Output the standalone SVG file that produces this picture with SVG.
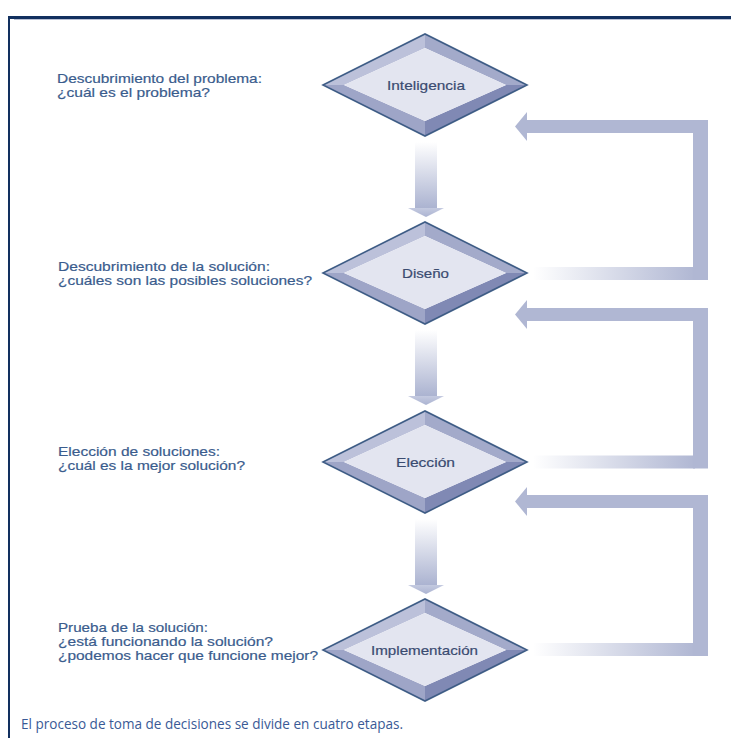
<svg xmlns="http://www.w3.org/2000/svg" width="731" height="738" viewBox="0 0 731 738">
  <defs>
    <linearGradient id="downFade" x1="0" y1="0" x2="0" y2="1">
      <stop offset="0" stop-color="#ffffff"/>
      <stop offset="1" stop-color="#aab2d0"/>
    </linearGradient>
    <linearGradient id="headFade" x1="0" y1="0" x2="0" y2="1">
      <stop offset="0" stop-color="#c4cae0"/>
      <stop offset="1" stop-color="#abb3d1"/>
    </linearGradient>
    <linearGradient id="sideFade" x1="0" y1="0" x2="1" y2="0">
      <stop offset="0" stop-color="#ffffff"/>
      <stop offset="1" stop-color="#b0b7d3"/>
    </linearGradient>
    <!-- bevelled diamond, centred on 0,0 -->
    <g id="diamond">
      <polygon points="-102,0 0,-51 0,-37 -81,0" fill="#bcc1da"/>
      <polygon points="0,-51 102,0 81,0 0,-37" fill="#a3aaca"/>
      <polygon points="-102,0 -81,0 0,36 0,51" fill="#9ea5c7"/>
      <polygon points="102,0 0,51 0,36 81,0" fill="#8089b4"/>
      <polygon points="-81,0 0,-37 81,0 0,36" fill="#e3e5f0"/>
      <polygon points="-102,0 0,-51 102,0 0,51" fill="none" stroke="#3f5d86" stroke-width="1.6" stroke-linejoin="miter"/>
    </g>
  </defs>
  <style>
    .lbl { font-family: "Liberation Sans", Arial, sans-serif; font-size: 13.5px; fill: #3a5c8d; stroke: #3a5c8d; stroke-width: 0.2px; }
    .node { font-family: "Liberation Sans", Arial, sans-serif; font-size: 13.5px; fill: #3a4b70; stroke: #3a4b70; stroke-width: 0.2px; text-anchor: middle; }
    .cap { font-family: "Open Sans", "Noto Sans", sans-serif; font-size: 14px; fill: #3a5a96; }
    .bar { fill: #b0b7d3; }
    .down { fill: url(#downFade); }
    .head { fill: url(#headFade); }
    .fade { fill: url(#sideFade); }
  </style>

  <rect x="0" y="0" width="731" height="738" fill="#ffffff"/>

  <!-- frame -->
  <g id="frame">
    <rect x="8" y="16" width="723" height="3" fill="#12305f"/>
    <rect x="8" y="16" width="2" height="722" fill="#12305f"/>
    <rect x="14" y="19" width="717" height="1" fill="#b9c0d4"/>
  </g>

  <!-- connectors -->
  <g id="connectors">
    <!-- downward arrows -->
    <rect class="down" x="415" y="142" width="22" height="67"/>
    <polygon class="head" points="408,208 444,208 426,217"/>
    <rect class="down" x="415" y="330" width="22" height="67"/>
    <polygon class="head" points="408,396 444,396 426,405"/>
    <rect class="down" x="415" y="519" width="22" height="67"/>
    <polygon class="head" points="408,585 444,585 426,594"/>

    <!-- feedback loop: Diseño back to Inteligencia -->
    <rect class="fade" x="533" y="267" width="162" height="13"/>
    <rect class="bar" x="693" y="120" width="15" height="160"/>
    <rect class="bar" x="527" y="120" width="168" height="13"/>
    <polygon class="bar" points="515,126.5 527,112 527,141"/>

    <!-- feedback loop: Elección back to Diseño -->
    <rect class="fade" x="533" y="455.5" width="162" height="13"/>
    <rect class="bar" x="693" y="308" width="15" height="160.5"/>
    <rect class="bar" x="527" y="308" width="168" height="13"/>
    <polygon class="bar" points="515,314.5 527,300 527,329"/>

    <!-- feedback loop: Implementación back to Elección -->
    <rect class="fade" x="533" y="643" width="162" height="13"/>
    <rect class="bar" x="693" y="495" width="15" height="161"/>
    <rect class="bar" x="527" y="495" width="168" height="13"/>
    <polygon class="bar" points="515,501.5 527,487 527,516"/>
  </g>

  <!-- stage nodes -->
  <g id="node-inteligencia">
    <use href="#diamond" x="425" y="85"/>
    <text class="node" x="426" y="90" textLength="78" lengthAdjust="spacingAndGlyphs">Inteligencia</text>
  </g>
  <g id="node-diseno">
    <use href="#diamond" x="425" y="273"/>
    <text class="node" x="425.5" y="278" textLength="47" lengthAdjust="spacingAndGlyphs">Diseño</text>
  </g>
  <g id="node-eleccion">
    <use href="#diamond" x="425" y="462"/>
    <text class="node" x="425.5" y="467" textLength="59" lengthAdjust="spacingAndGlyphs">Elección</text>
  </g>
  <g id="node-implementacion">
    <use href="#diamond" x="425" y="650"/>
    <text class="node" x="424.5" y="655" textLength="107" lengthAdjust="spacingAndGlyphs">Implementación</text>
  </g>

  <!-- stage descriptions -->
  <g id="desc-inteligencia">
    <text class="lbl" x="57" y="83" textLength="205" lengthAdjust="spacingAndGlyphs">Descubrimiento del problema:</text>
    <text class="lbl" x="57" y="97" textLength="153" lengthAdjust="spacingAndGlyphs">¿cuál es el problema?</text>
  </g>
  <g id="desc-diseno">
    <text class="lbl" x="58" y="271" textLength="212" lengthAdjust="spacingAndGlyphs">Descubrimiento de la solución:</text>
    <text class="lbl" x="58" y="285" textLength="254" lengthAdjust="spacingAndGlyphs">¿cuáles son las posibles soluciones?</text>
  </g>
  <g id="desc-eleccion">
    <text class="lbl" x="58" y="456" textLength="162" lengthAdjust="spacingAndGlyphs">Elección de soluciones:</text>
    <text class="lbl" x="58" y="470" textLength="187" lengthAdjust="spacingAndGlyphs">¿cuál es la mejor solución?</text>
  </g>
  <g id="desc-implementacion">
    <text class="lbl" x="58" y="632" textLength="150" lengthAdjust="spacingAndGlyphs">Prueba de la solución:</text>
    <text class="lbl" x="58" y="646" textLength="215" lengthAdjust="spacingAndGlyphs">¿está funcionando la solución?</text>
    <text class="lbl" x="58" y="660" textLength="260" lengthAdjust="spacingAndGlyphs">¿podemos hacer que funcione mejor?</text>
  </g>

  <!-- caption -->
  <text class="cap" x="21" y="729" textLength="382" lengthAdjust="spacingAndGlyphs">El proceso de toma de decisiones se divide en cuatro etapas.</text>
</svg>
